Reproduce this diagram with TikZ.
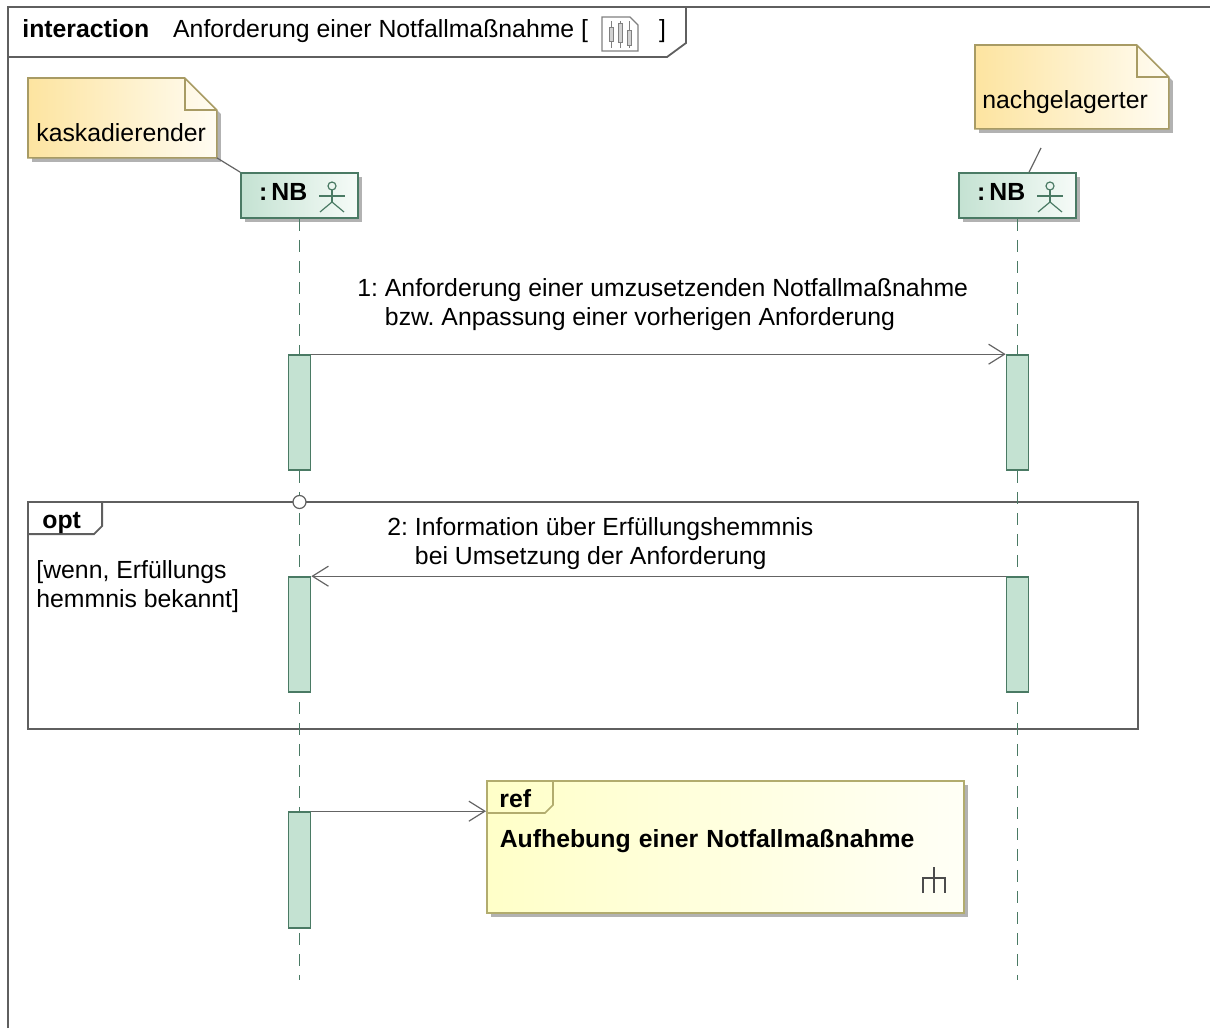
\documentclass[tikz,border=0pt]{standalone}
\usepackage{fontspec}
\setmainfont{Liberation Sans}
\usetikzlibrary{arrows.meta}
\usetikzlibrary{calc}
\usetikzlibrary{shadows}
\usetikzlibrary{backgrounds}

\definecolor{nbgreen}{RGB}{74,122,100}
\definecolor{nbfill}{RGB}{196,226,210}
\definecolor{nbwhite}{RGB}{246,251,248}
\definecolor{notedraw}{RGB}{168,155,100}
\definecolor{noteleft}{RGB}{253,228,160}
\definecolor{noteright}{RGB}{255,252,242}
\definecolor{refdraw}{RGB}{178,172,110}
\definecolor{refleft}{RGB}{255,255,200}
\definecolor{refright}{RGB}{255,255,246}
\definecolor{framegray}{RGB}{95,95,95}
\definecolor{msggray}{RGB}{100,100,100}
\definecolor{shadowgray}{RGB}{178,178,178}

\newcommand{\umlfont}{\fontsize{12.4pt}{14.5pt}\selectfont\frenchspacing}

% folded note drawn behind a note node
\newcommand{\notebg}[1]{%
\begin{scope}[on background layer]
\fill[shadowgray] ($(#1.south west)+(4,4)$) -- ($(#1.south east)+(4,4)$) -- ($(#1.north east)+(4,36)$) -- ($(#1.north east)+(-28,4)$) -- ($(#1.north west)+(4,4)$) -- cycle;
\path[left color=noteleft, right color=noteright] (#1.south west) -- (#1.south east) -- ($(#1.north east)+(0,32)$) -- ($(#1.north east)+(-32,0)$) -- (#1.north west) -- cycle;
\draw[notedraw, line width=0.8pt] (#1.south west) -- (#1.south east) -- ($(#1.north east)+(0,32)$) -- ($(#1.north east)+(-32,0)$) -- (#1.north west) -- cycle;
\draw[notedraw, line width=0.8pt] ($(#1.north east)+(-32,0)$) -- ($(#1.north east)+(-32,32)$) -- ($(#1.north east)+(0,32)$);
\end{scope}}

% stick figure of a lifeline head
\newcommand{\actorsym}[1]{%
\begin{scope}[shift={(#1)}, draw=nbgreen, line width=0.6pt]
\draw (0,-10) circle[radius=4];
\draw (-13,0) -- (13,0);
\draw (0,-6) -- (0,6);
\draw (-12,16) -- (0,6) -- (12,16);
\end{scope}}

\begin{document}
\begin{tikzpicture}[x=0.5pt, y=-0.5pt,
  every node/.style={font=\umlfont},
  frame/.style={draw=framegray, line width=0.9pt},
  head/.style={draw=nbgreen, line width=0.9pt, left color=nbfill, right color=nbwhite,
    drop shadow={shadow xshift=2pt, shadow yshift=-2pt, fill=shadowgray, opacity=1},
    minimum width=58.5pt, minimum height=22.5pt, text width=40.5pt, inner xsep=9pt, inner ysep=0pt,
    text height=13.75pt, text depth=8.75pt, align=left, font=\umlfont\bfseries},
  note/.style={anchor=north west, inner xsep=4pt, inner ysep=0pt, align=left},
  noteline/.style={draw=msggray, line width=0.6pt},
  lifeline/.style={draw=nbgreen, line width=0.8pt, dash pattern=on 6pt off 4.5pt},
  act/.style={draw=nbgreen, line width=0.8pt, fill=nbfill, minimum width=11pt, inner sep=0pt},
  msg/.style={draw=msggray, line width=0.6pt, -{Straight Barb[length=8pt, width=10pt]}},
  msgtext/.style={anchor=base west, align=left, inner sep=0pt},
  tabtext/.style={anchor=base west, inner sep=0pt, font=\umlfont\bfseries},
  refbox/.style={draw=refdraw, line width=0.8pt, left color=refleft, right color=refright,
    drop shadow={shadow xshift=2pt, shadow yshift=-2pt, fill=shadowgray, opacity=1},
    anchor=north west, inner xsep=6.5pt, inner ysep=0pt, text width=225.5pt,
    text height=33.5pt, text depth=32.5pt, align=left, font=\umlfont\bfseries}]

\useasboundingbox (0,0) rectangle (1210,1028);

% diagram frame
\draw[frame] (8,1028) -- (8,7) -- (1210,7);
\draw[frame] (8,57) -- (667,57) -- (686,43) -- (686,7);
\node[anchor=base west, inner sep=0pt] (title) at (22,37) {\textbf{interaction}\hspace{12pt}Anforderung einer Notfallmaßnahme [\hspace{35.5pt}]};
\draw[draw=gray, line width=0.6pt, fill=white] (602,17) -- (630,17) -- (638,25) -- (638,51) -- (602,51) -- cycle;
\draw[draw=gray, line width=0.4pt] (611,21) -- (611,48) (620,21) -- (620,48) (629,21) -- (629,48);
\draw[draw=gray, line width=0.4pt, fill=gray!35] (609,27) rectangle (613,41);
\draw[draw=gray, line width=0.4pt, fill=gray!35] (618,23) rectangle (622,42);
\draw[draw=gray, line width=0.4pt, fill=gray!35] (627,30) rectangle (631,45);

% notes
\node[note, text width=86pt, text height=31.35pt, text depth=8.15pt] (kaskadierend) at (28,78) {kaskadierender};
\notebg{kaskadierend}
\node[note, inner xsep=3.5pt, text width=89.5pt, text height=31.5pt, text depth=10pt] (nachgelagert) at (975,45) {nachgelagerter};
\notebg{nachgelagert}

% lifeline heads
\node[head] (nbL) at (299.5,195.5) {:\,NB};
\actorsym{332,196}
\node[head] (nbR) at (1017.5,195.5) {:\,NB};
\actorsym{1050,196}

\coordinate (nachgelagertend) at (1041,148);
\draw[noteline] (kaskadierend.south east) -- (nbL.north west);
\draw[noteline] (nachgelagertend) -- ($(nbR.north west)+(71,0)$);

% opt fragment
\node[frame, minimum width=555pt, minimum height=113.5pt, inner sep=0pt] (optframe) at (583,615.5) {};
\draw[frame] ($(optframe.north west)+(0,33)$) -- ++(67,0) -- ++(8,-8) -- ($(optframe.north west)+(75,0)$);
\node[tabtext] (opt) at (42,528) {opt};
\node[msgtext] (guard) at (36,607) {[wenn, Erfüllungs\\hemmnis bekannt]};

% lifelines
\coordinate (endL) at (299.5,980);
\coordinate (endR) at (1017.5,980);
\draw[lifeline] (nbL.south) -- (endL);
\draw[lifeline] (nbR.south) -- (endR);
\node[circle, draw=framegray, fill=white, line width=0.6pt, minimum size=6.5pt, inner sep=0pt] (gate) at (299.5,502) {};

% activations
\node[act, minimum height=57.5pt] (actL1) at (299.5,412.5) {};
\node[act, minimum height=57.5pt] (actR1) at (1017.5,412.5) {};
\node[act, minimum height=57.5pt] (actL2) at (299.5,634.5) {};
\node[act, minimum height=57.5pt] (actR2) at (1017.5,634.5) {};
\node[act, minimum height=58pt] (actL3) at (299.5,870) {};

% interaction use
\node[refbox] (aufhebung) at (486,780) {Aufhebung einer Notfallmaßnahme};
\draw[draw=refdraw, line width=0.8pt] ($(aufhebung.north west)+(0,33)$) -- ++(59,0) -- ++(8,-8) -- ($(aufhebung.north west)+(67,0)$);
\node[tabtext] (ref) at (499,807) {ref};
\draw[draw=black!70, line width=1.4pt] (934,867) -- (934,893) (923,893) -- (923,878) -- (945,878) -- (945,893);

% messages
\node[msgtext] (msg1) at (357,325) {1: Anforderung einer umzusetzenden Notfallmaßnahme\\\phantom{1: }bzw. Anpassung einer vorherigen Anforderung};
\node[msgtext] (msg2) at (387,564) {2: Information über Erfüllungshemmnis\\\phantom{2: }bei Umsetzung der Anforderung};
\draw (actL1.north east) edge[msg] (actR1.north west);
\draw (actR2.north west) edge[msg] (actL2.north east);
\draw (actL3.north east) edge[msg] (actL3.north east -| aufhebung.west);

\end{tikzpicture}
\end{document}
